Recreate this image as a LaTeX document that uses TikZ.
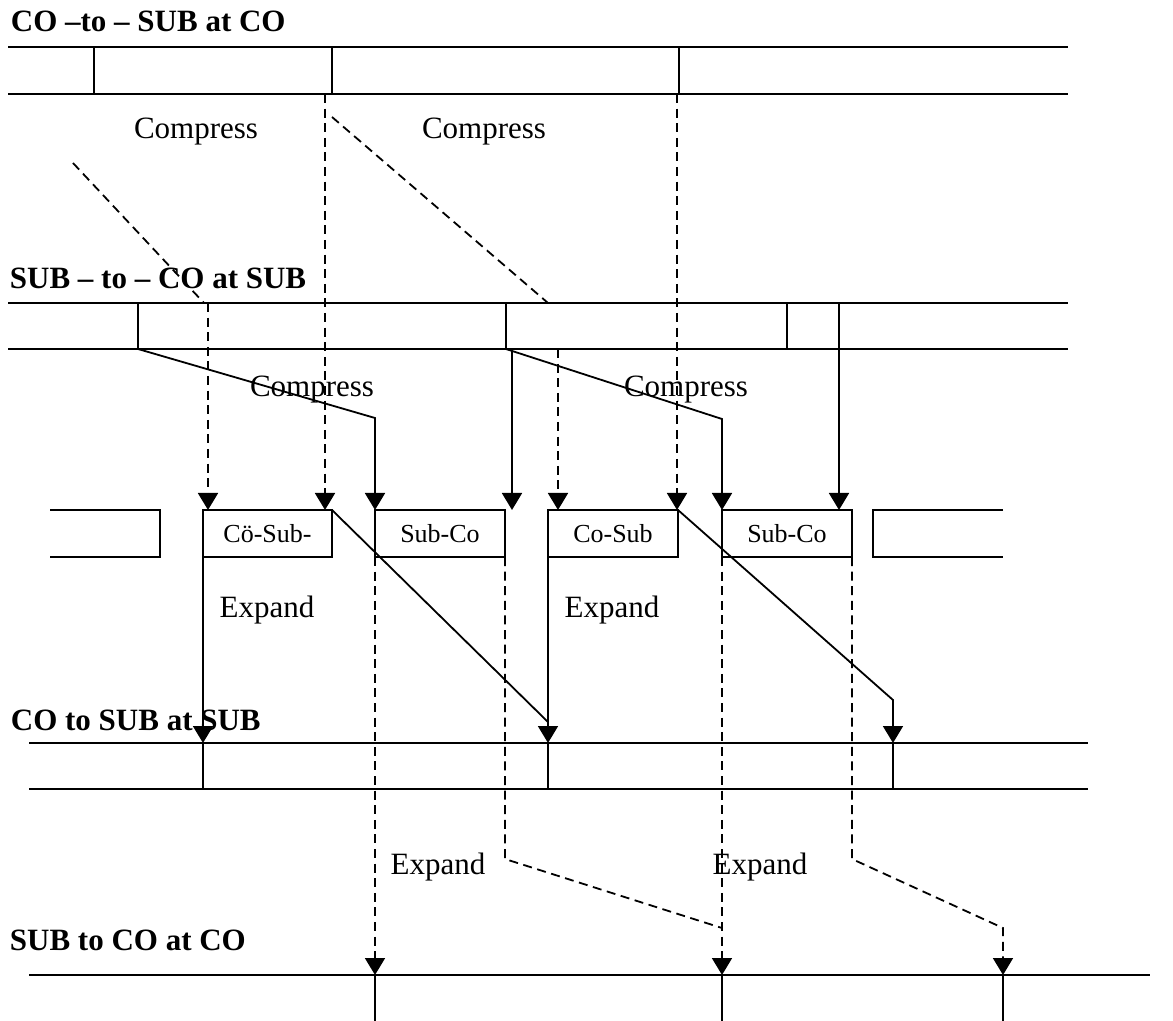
\documentclass[tikz,border=0pt]{standalone}
\usepackage{fontspec}
\setmainfont{Liberation Serif}
\usetikzlibrary{arrows.meta, calc}

\begin{document}
\begin{tikzpicture}[x=0.5pt, y=-0.5pt, line width=0.9pt,
    every node/.style={font=\fontsize{15.5}{18}\selectfont, inner sep=0pt},
    ttl/.style={anchor=base west, font=\fontsize{15.5}{18}\selectfont\bfseries},
    pkt/.style={draw, outer sep=0pt, minimum height=23.5pt, font=\fontsize{13}{15}\selectfont},
    map/.style={dash pattern=on 4.5pt off 2.8pt},
    >={Triangle[length=8.5pt, width=10pt]}]
  \useasboundingbox (0,0) rectangle (1173,1021);

  % Titles of the four streams
  \node[ttl] (t1) at (10,32) {CO –to – SUB at CO};
  \node[ttl] (t2) at (9,289) {SUB – to – CO at SUB};
  \node[ttl] (t3) at (10,730) {CO to SUB at SUB};
  \node[ttl] (t4) at (9,950) {SUB to CO at CO};

  % CO-to-SUB at CO
  \draw (8,47) -- (1068,47) (8,94) -- (1068,94);
  \foreach \x in {94,332,679} \draw (\x,47) -- (\x,94);
  % SUB-to-CO at SUB
  \draw (8,303) -- (1068,303) (8,349) -- (1068,349);
  \foreach \x in {138,506,787} \draw (\x,303) -- (\x,349);
  % CO to SUB at SUB
  \draw (29,743) -- (1088,743) (29,789) -- (1088,789);
  \foreach \x in {203,548,893} \draw (\x,743) -- (\x,789);
  % SUB to CO at CO
  \draw (29,975) -- (1150,975);
  \foreach \x in {375,722,1003} \draw (\x,975) -- (\x,1021);

  % Multiplexed packets
  \draw (50,510) -- (160,510) -- (160,557) -- (50,557);
  \node[pkt, minimum width=64.5pt] (cs1) at (267.5,533.5) {Cö-Sub-};
  \node[pkt, minimum width=65pt] (sc1) at (440,533.5) {Sub-Co};
  \node[pkt, minimum width=65pt] (cs2) at (613,533.5) {Co-Sub};
  \node[pkt, minimum width=65pt] (sc2) at (787,533.5) {Sub-Co};
  \draw (1003,510) -- (873,510) -- (873,557) -- (1003,557);

  % Labels
  \node (c1) at (196,132) {Compress};
  \node (c2) at (484,132) {Compress};
  \node (c3) at (312,390) {Compress};
  \node (c4) at (686,390) {Compress};
  \node (e1) at (267,610) {Expand};
  \node (e2) at (612,610) {Expand};
  \node (e3) at (438,867) {Expand};
  \node (e4) at (760,867) {Expand};

  % CO to SUB, compressed into the packets
  \draw[map] (73,163) -- (204,303);
  \draw[map, ->] (208,303) -- (208,0 |- cs1.north);
  \draw[map, ->] (325,94) -- (325,0 |- cs1.north);
  \draw[map] (332,117) -- (548,303);
  \draw[map, ->] (558,349) -- (558,0 |- cs2.north);
  \draw[map, ->] (677,94) -- (677,0 |- cs2.north);

  % SUB to CO, compressed into the packets
  \draw[->] (138,349) -- (sc1.north west |- 0,418) -- (sc1.north west);
  \draw[->] (512,349) -- (512,0 |- sc1.north);
  \draw[->] (506,349) -- (sc2.north west |- 0,419) -- (sc2.north west);
  \draw[->] (839,303) -- (839,0 |- sc2.north);

  % Co-Sub packets expanded at SUB
  \draw[->] (cs1.south west) -- (cs1.south west |- 0,743);
  \draw[->] (cs1.north east) -- (cs2.south west |- 0,722) -- (cs2.south west |- 0,743);
  \draw (cs2.south west) -- (cs2.south west |- 0,722);
  \draw[->] (cs2.north east) -- (893,700) -- (893,743);

  % Sub-Co packets expanded at CO
  \draw[map, ->] (sc1.south west) -- (sc1.south west |- 0,975);
  \draw[map] (sc1.south east) -- (sc1.south east |- 0,859) -- (sc2.south west |- 0,928);
  \draw[map, ->] (sc2.south west) -- (sc2.south west |- 0,975);
  \draw[map, ->] (sc2.south east) -- (sc2.south east |- 0,859) -- (1003,928) -- (1003,975);
\end{tikzpicture}
\end{document}
